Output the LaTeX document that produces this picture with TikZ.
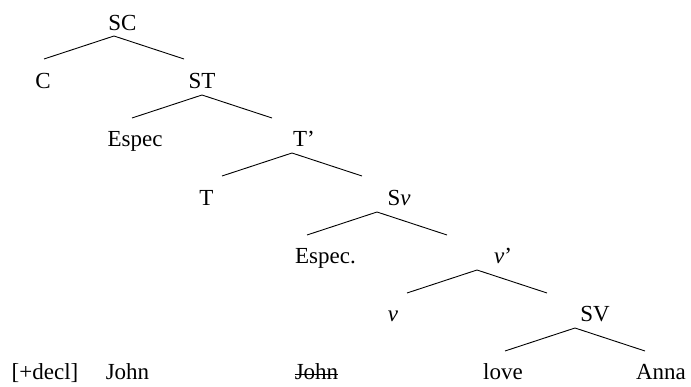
\documentclass[tikz,border=0pt]{standalone}
\usepackage{fontspec}
\setmainfont{Liberation Serif}
\usepackage{tikz}
\usetikzlibrary{positioning}

\begin{document}
\begin{tikzpicture}[x=1pt,y=-1pt,
    lab/.style={anchor=base,inner sep=0pt,font=\fontsize{23}{27}\selectfont},
    branch/.style={line width=0.9pt},
    strike/.style={line width=1pt}]
\useasboundingbox (0,0) rectangle (691,387);
% branching points of the tree
\foreach \nm/\ax/\ay in {sc/114/36, st/202/95, tb/292/153, sv/377/212, vb/477/270, vp/575/328} {
    \coordinate (\nm-top) at (\ax,\ay);
    \coordinate (\nm-l) at (\ax-70,\ay+23);
    \coordinate (\nm-r) at (\ax+70,\ay+23);
    \draw[branch] (\nm-l) -- (\nm-top) -- (\nm-r);
}
% labels
\node[lab] (sc) at (122.5,31) {SC};
\node[lab] (c) at (43,89) {C};
\node[lab] (st) at (202,89) {ST};
\node[lab] (espec) at (135,147) {Espec};
\node[lab] (tbar) at (304,147) {T’};
\node[lab] (t) at (206.5,206) {T};
\node[lab] (sv) at (399,206) {S\textit{v}};
\node[lab] (especb) at (325.5,264) {Espec.};
\node[lab] (vbar) at (503,264) {\textit{v}’};
\node[lab] (v) at (393,322) {\textit{v}};
\node[lab] (svp) at (595,322) {SV};
\node[lab] (decl) at (45,380) {[+decl]};
\node[lab] (john) at (127.5,380) {John};
\node[lab] (johnb) at (316.5,380) {John};
\node[lab] (love) at (503,380) {love};
\node[lab] (anna) at (661,380) {Anna};
% trace crossed out
\draw[strike] ([yshift=5pt]johnb.base west) -- ([yshift=5pt]johnb.base east);
\end{tikzpicture}
\end{document}
